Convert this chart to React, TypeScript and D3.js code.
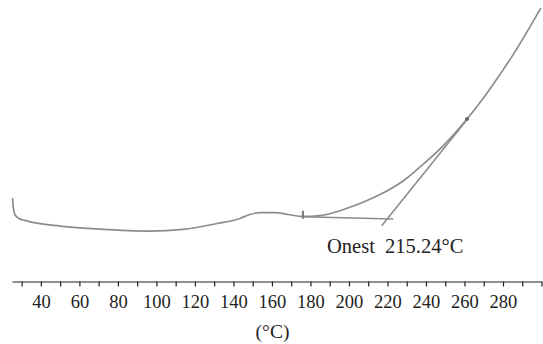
import React, { useEffect, useRef } from 'react'
import * as d3 from 'd3'

// DSC trace, temperature (°C) vs heat flow (arbitrary units)
const temps = [25.3, 25.7, 26.5, 28.6, 31.7, 35.8, 49.9, 70.6, 96.6, 113.8, 131.4, 143.4, 148.6, 153.8, 161.6, 168.3, 176.1, 184.9, 199, 213.5, 228.1, 236.9, 248.8, 261.3, 273.2, 285.2, 299.7]
const flow = [2.96, 2.61, 2.38, 2.24, 2.17, 2.10, 1.97, 1.86, 1.79, 1.85, 2.06, 2.24, 2.38, 2.45, 2.45, 2.38, 2.31, 2.34, 2.60, 3.00, 3.57, 4.07, 4.81, 5.77, 6.84, 8.05, 9.72]

const baseT = [176.1, 223.0]
const baseV = [2.30, 2.22]
const tangentT = [217.0, 261.8]
const tangentV = [1.98, 5.79]
const markT = [176.1, 261.3]
const markV = [2.30, 5.77]

const tickValues = d3.range(30, 301, 10)
const labelValues = [40, 60, 80, 100, 120, 140, 160, 180, 200, 220, 240, 260, 280]
const onsetLabel = 'Onest  215.24°C'
const onsetAt = { t: 188.6, v: 1.02 }
const unitLabel = '(°C)'

const serif = "'Liberation Serif', 'Times New Roman', serif"

export default function App() {
  const ref = useRef<SVGSVGElement>(null)

  useEffect(() => {
    document.body.style.margin = '0'
    const el = ref.current
    if (!el) return
    const svg = d3.select(el)
    svg.selectAll('*').remove()

    const x = d3.scaleLinear().domain([25, 300]).range([12, 541.5])
    const y = d3.scaleLinear().domain([0, 10]).range([281.5, 0])
    const grey = '#8c8c8c'

    const data = temps.map((t, i) => ({ t, v: flow[i] }))
    const line = d3.line<{ t: number; v: number }>().x(d => x(d.t)).y(d => y(d.v)).curve(d3.curveMonotoneX)
    svg.append('path').attr('d', line(data)).attr('fill', 'none').attr('stroke', grey).attr('stroke-width', 1.7)

    const seg = d3.line<[number, number]>().x(d => x(d[0])).y(d => y(d[1]))
    svg.append('path').attr('d', seg(baseT.map((t, i) => [t, baseV[i]] as [number, number])))
      .attr('fill', 'none').attr('stroke', grey).attr('stroke-width', 1.6)
    svg.append('path').attr('d', seg(tangentT.map((t, i) => [t, tangentV[i]] as [number, number])))
      .attr('fill', 'none').attr('stroke', grey).attr('stroke-width', 1.6)

    // small pick marks on the trace
    svg.append('line').attr('x1', x(markT[0])).attr('x2', x(markT[0]))
      .attr('y1', y(markV[0]) - 6).attr('y2', y(markV[0]) + 2)
      .attr('stroke', '#777').attr('stroke-width', 2)
    svg.append('circle').attr('cx', x(markT[1])).attr('cy', y(markV[1])).attr('r', 2).attr('fill', '#666')

    svg.append('text').attr('x', x(onsetAt.t)).attr('y', y(onsetAt.v))
      .style('font-family', serif).style('font-size', '20.5px')
      .attr('fill', '#222').style('white-space', 'pre').text(onsetLabel)

    const ax = d3.axisBottom(x).tickValues(tickValues).tickSize(5).tickSizeOuter(0)
      .tickFormat(d => (labelValues.includes(+d) ? String(d) : ''))
    const g = svg.append('g').attr('transform', 'translate(0,281.5)').call(ax)
    g.attr('font-family', null).attr('font-size', null)
    g.select('.domain').attr('stroke', '#222').attr('stroke-width', 1.2)
    g.selectAll('.tick line').attr('stroke', '#222').attr('stroke-width', 1.2)
    g.selectAll('.tick text').attr('fill', '#222').style('font-size', '18.5px')
      .style('font-family', serif).attr('dy', 0).attr('y', 26)

    svg.append('text').attr('x', 272.5).attr('y', 338.3).attr('text-anchor', 'middle')
      .style('font-family', serif).style('font-size', '19.5px')
      .attr('fill', '#222').text(unitLabel)
  }, [])

  return <svg ref={ref} width={543} height={344} style={{ display: 'block', background: '#fff' }} />
}
